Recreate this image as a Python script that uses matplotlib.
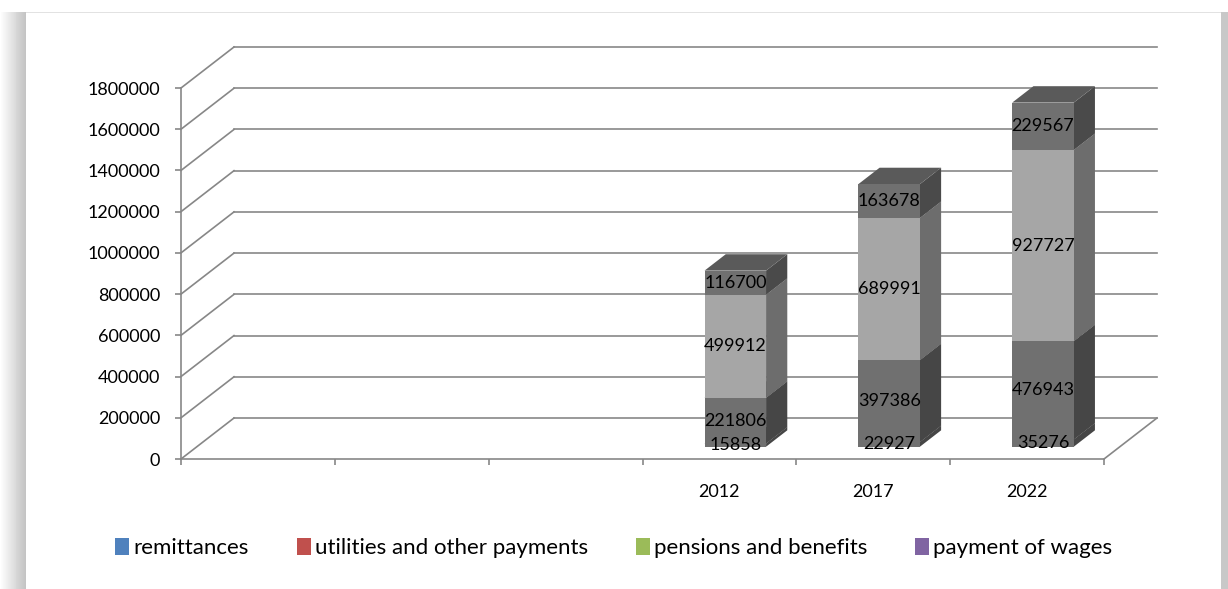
import numpy as np
import matplotlib
matplotlib.use('Agg')
import matplotlib.pyplot as plt
from matplotlib.patches import Polygon, Rectangle

# data
categories = ['', '', '', '2012', '2017', '2022']
series = ['remittances', 'utilities and other payments', 'pensions and benefits', 'payment of wages']
remittances = [15858, 22927, 35276]
utilities = [221806, 397386, 476943]
pensions = [499912, 689991, 927727]
wages = [116700, 163678, 229567]
yticks = list(range(0, 1800001, 200000))

# styles
legend_colors = ['#4F81BD', '#C0504D', '#9BBB59', '#8064A2']
front_colors = ['#707070', '#707070', '#a6a6a6', '#707070']
side_colors = ['#464646', '#464646', '#6d6d6d', '#4a4a4a']
top_colors = ['#5a5a5a', '#5a5a5a', '#8a8a8a', '#5a5a5a']
grid_col = '#878787'
FONT = 'Lato'
FS = 13

plt.rcParams['font.family'] = [FONT, 'DejaVu Sans']

W, H = 1228, 589
fig = plt.figure(figsize=(W / 100, H / 100), dpi=100)
fig.patch.set_facecolor('white')

# front plane of the chart: x 181..1104 px, y 88..459 px
ax = fig.add_axes([181 / W, (H - 459) / H, 923 / W, 371 / H])
ax.set_xlim(0, len(categories))
ax.set_ylim(0, yticks[-1])
ax.patch.set_alpha(0)

# depth of the back wall in data units
DX = 53 / (923 / len(categories))
DY = 41 / (371 / yticks[-1])

# walls and gridlines
for y in yticks:
    ax.plot([0, DX], [y, y + DY], color=grid_col, lw=1.2, clip_on=False, zorder=1)
    ax.plot([DX, len(categories) + DX], [y + DY, y + DY], color=grid_col, lw=1.2,
            clip_on=False, zorder=1)
ax.plot([len(categories), len(categories) + DX], [0, DY], color=grid_col, lw=1.2,
        clip_on=False, zorder=1)

for s in ['top', 'right']:
    ax.spines[s].set_visible(False)
for s in ['left', 'bottom']:
    ax.spines[s].set_color(grid_col)
    ax.spines[s].set_linewidth(1.2)

ax.set_yticks(yticks)
ax.set_yticklabels([str(v) for v in yticks], fontsize=FS)
ax.tick_params(axis='y', direction='out', length=4.5, width=1.2, color=grid_col, pad=10.5)
ax.set_xticks(np.arange(len(categories)) + 0.5)
ax.set_xticklabels(categories, fontsize=FS)
ax.set_xticks(np.arange(len(categories) + 1), minor=True)
ax.tick_params(axis='x', which='major', length=0, pad=18)
ax.tick_params(axis='x', which='minor', direction='out', length=4.5, width=1.2, color=grid_col)

# 3d stacked bars
bar_w = 0.4
f0 = 0.3      # front face depth fraction
fd = 0.4      # bar depth fraction
first = categories.index('2012')
values = [remittances, utilities, pensions, wages]
bottoms = np.zeros(len(remittances))
for k, vals in enumerate(values):
    vals = np.array(vals, dtype=float)
    for j in range(len(vals)):
        x0 = first + j + 0.5 - bar_w / 2 + f0 * DX
        y0 = bottoms[j] + f0 * DY
        y1 = y0 + vals[j]
        x1 = x0 + bar_w
        ddx, ddy = fd * DX, fd * DY
        side = Polygon([(x1, y0), (x1 + ddx, y0 + ddy), (x1 + ddx, y1 + ddy), (x1, y1)],
                       closed=True, facecolor=side_colors[k], edgecolor='none',
                       zorder=3 + k, clip_on=False)
        top = Polygon([(x0, y1), (x1, y1), (x1 + ddx, y1 + ddy), (x0 + ddx, y1 + ddy)],
                      closed=True, facecolor=top_colors[k], edgecolor='none',
                      zorder=3 + k, clip_on=False)
        ax.add_patch(side)
        ax.add_patch(top)
    ax.bar(np.arange(len(vals)) + first + 0.5 + f0 * DX, vals, width=bar_w,
           bottom=bottoms + f0 * DY, color=front_colors[k], zorder=3 + k, clip_on=False)
    for j in range(len(vals)):
        ax.text(first + j + 0.5 + f0 * DX, bottoms[j] + vals[j] / 2 + f0 * DY,
                str(int(vals[j])), ha='center', va='center', fontsize=FS, zorder=10)
    bottoms = bottoms + vals

# legend
handles = [Rectangle((0, 0), 1, 1, facecolor=c, edgecolor='none') for c in legend_colors]
fig.legend(handles, series, loc='center', bbox_to_anchor=(0.5, (H - 548) / H), ncol=4,
           frameon=False, fontsize=16, handlelength=0.62, handleheight=0.85,
           handletextpad=0.2, columnspacing=2.15)

# frame shadow around the chart area
grad = np.concatenate([np.linspace(1.0, 0.86, 16), np.linspace(0.84, 0.77, 10)])[None, :]
sh = fig.add_axes([0, 0, 26 / W, (H - 12) / H])
sh.imshow(np.dstack([grad, grad, grad]), aspect='auto', extent=(0, 1, 0, 1))
sh.axis('off')
fig.add_artist(Rectangle((26 / W, (H - 13) / H), (1222 - 26) / W, 1.5 / H,
                         transform=fig.transFigure, facecolor='#e2e2e2', edgecolor='none'))
fig.add_artist(Rectangle((1221 / W, 0), 7 / W, (H - 12) / H,
                         transform=fig.transFigure, facecolor='#c8c8c8', edgecolor='none'))

fig.savefig('out.png', dpi=100, facecolor='white')
